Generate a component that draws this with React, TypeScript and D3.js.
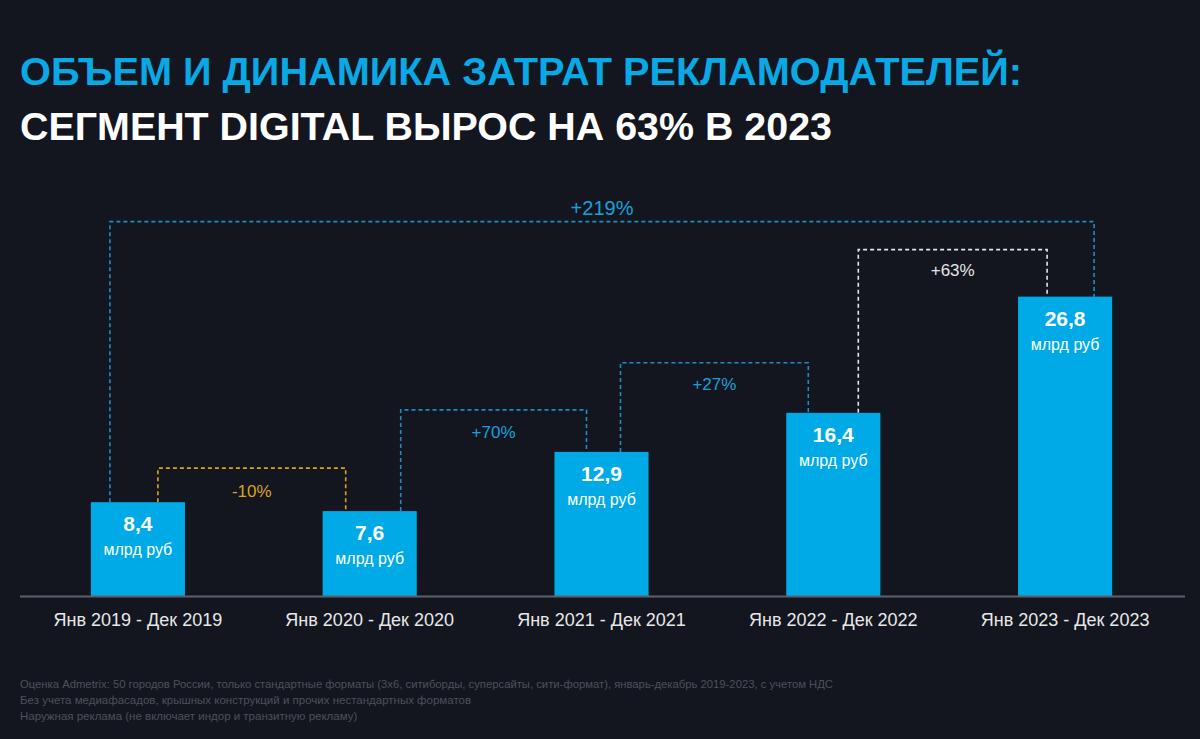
import React from 'react';
import * as d3 from 'd3';

const periods = [
  'Янв 2019 - Дек 2019',
  'Янв 2020 - Дек 2020',
  'Янв 2021 - Дек 2021',
  'Янв 2022 - Дек 2022',
  'Янв 2023 - Дек 2023',
];
const values = [8.4, 7.6, 12.9, 16.4, 26.8];
const valueLabels = ['8,4', '7,6', '12,9', '16,4', '26,8'];
const unit = 'млрд руб';

// connectors between bars: from index, to index, label
const changeFrom = [0, 1, 2, 3, 0];
const changeTo = [1, 2, 3, 4, 4];
const changeLabels = ['-10%', '+70%', '+27%', '+63%', '+219%'];

const titleLines = ['ОБЪЕМ И ДИНАМИКА ЗАТРАТ РЕКЛАМОДАТЕЛЕЙ:', 'СЕГМЕНТ DIGITAL ВЫРОС НА 63% В 2023'];
const notes = [
  'Оценка Admetrix: 50 городов России, только стандартные форматы (3х6, ситиборды, суперсайты, сити-формат), январь-декабрь 2019-2023, с учетом НДС',
  'Без учета медиафасадов, крышных конструкций и прочих нестандартных форматов',
  'Наружная реклама (не включает индор и транзитную рекламу)',
];

const W = 1200;
const H = 739;
const BG = '#13161f';
const BAR = '#00aae6';
const narrow = '"Liberation Sans Narrow", "Arial Narrow", "Liberation Sans", Arial, sans-serif';
const sans = '"Liberation Sans", Arial, sans-serif';

// style per connector
const connColor = ['#d9a520', '#1b8fc2', '#1b8fc2', '#e6e6e6', '#1b8fc2'];
const labelColor = ['#d9a520', '#1aa0dc', '#1aa0dc', '#e6e6e6', '#1aa0dc'];
const labelSize = [17, 17, 17, 17, 20];
const fromOff = [20, 31, 19, 25, -28];
const toOff = [-24, -15, -25, -18, 29];
const rise = [34, 42, 50, 47, 75];
const labelDy = [29, 28, 27, 26, -7];

export default function App() {
  const x = d3.scaleBand<string>().domain(periods).range([22, 1181]).paddingInner(0.594).paddingOuter(0.297);
  const y = d3.scaleLinear().domain([0, 30]).range([596, 596 - 30 * 11.17]);
  const bw = x.bandwidth();
  const cx = (i: number) => (x(periods[i]) as number) + bw / 2;

  return (
    <svg width={W} height={H} style={{ display: 'block', position: 'absolute', left: 0, top: 0 }}>
      <rect width={W} height={H} fill={BG} />
      <text x={20} y={85} fill="#0aa8e4" fontFamily={narrow} fontWeight="bold" fontSize={39}
        textLength={1002} lengthAdjust="spacingAndGlyphs">{titleLines[0]}</text>
      <text x={20} y={140} fill="#ffffff" fontFamily={narrow} fontWeight="bold" fontSize={39}
        textLength={812} lengthAdjust="spacingAndGlyphs">{titleLines[1]}</text>

      {changeLabels.map((lab, k) => {
        const a = changeFrom[k];
        const b = changeTo[k];
        const x1 = cx(a) + fromOff[k];
        const x2 = cx(b) + toOff[k];
        const ya = y(values[a]);
        const yb = y(values[b]);
        const top = Math.min(ya, yb) - rise[k];
        const path = d3.path();
        path.moveTo(x1, ya);
        path.lineTo(x1, top);
        path.lineTo(x2, top);
        path.lineTo(x2, yb);
        return (
          <g key={lab}>
            <path d={path.toString()} fill="none" stroke={connColor[k]} strokeWidth={1.6} strokeDasharray="4 3" />
            <text x={(x1 + x2) / 2} y={top + labelDy[k]} textAnchor="middle" fill={labelColor[k]}
              fontFamily={sans} fontSize={labelSize[k]}>{lab}</text>
          </g>
        );
      })}

      {values.map((v, i) => (
        <g key={periods[i]}>
          <rect x={x(periods[i])} y={y(v)} width={bw} height={y(0) - y(v)} fill={BAR} />
          <text x={cx(i)} y={y(v) + 29} textAnchor="middle" fill="#fff" fontFamily={sans} fontWeight="bold" fontSize={21}>{valueLabels[i]}</text>
          <text x={cx(i)} y={y(v) + 53} textAnchor="middle" fill="#fff" fontFamily={sans} fontSize={16}>{unit}</text>
          <text x={cx(i)} y={626} textAnchor="middle" fill="#e8e8e8" fontFamily={sans} fontSize={18}>{periods[i]}</text>
        </g>
      ))}
      <line x1={20} x2={1185} y1={y(0) + 0.5} y2={y(0) + 0.5} stroke="#5c606a" strokeWidth={2} />

      {notes.map((n, i) => (
        <text key={i} x={20} y={688 + i * 16} fill="#4d515a" fontFamily={narrow} fontSize={11.5}
          textLength={i === 0 ? 813 : undefined} lengthAdjust="spacingAndGlyphs">{n}</text>
      ))}
    </svg>
  );
}
